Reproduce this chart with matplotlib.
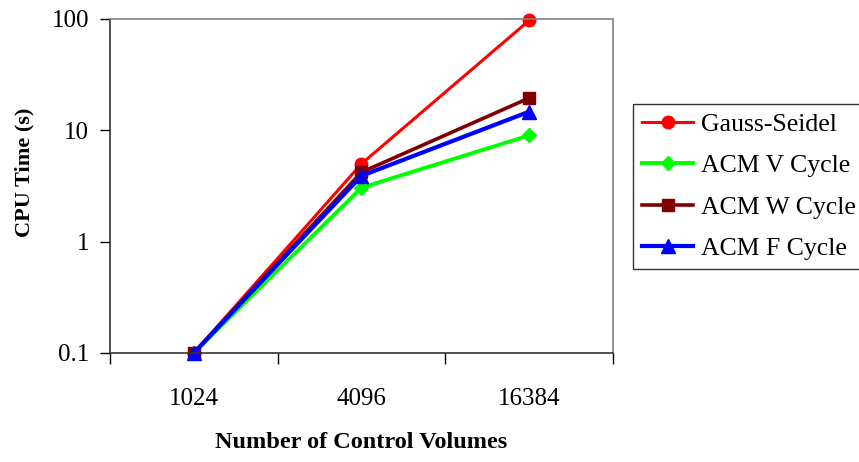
import numpy as np
import matplotlib
matplotlib.use("Agg")
import matplotlib.pyplot as plt

plt.rcParams['font.family'] = ['Liberation Serif', 'DejaVu Serif']

# data
volumes = ['1024', '4096', '16384']
gauss_seidel = [0.1, 5.0, 97.0]
acm_v = [0.1, 3.05, 9.0]
acm_w = [0.1, 4.2, 19.5]
acm_f = [0.1, 3.9, 14.7]

series = [
    ('Gauss-Seidel', gauss_seidel, '#FF0000', 'o', 9, 2.2),
    ('ACM V Cycle', acm_v, '#00FF00', 'D', 7.5, 2.8),
    ('ACM W Cycle', acm_w, '#800000', 's', 8.5, 2.6),
    ('ACM F Cycle', acm_f, '#0000FF', '^', 10, 3.0),
]

fig = plt.figure(figsize=(8.59, 4.62), dpi=100)
ax = fig.add_axes([0.128, 0.236, 0.5856, 0.7229])

x = np.arange(len(volumes))
for name, vals, col, mk, ms, lw in series:
    ax.plot(x, vals, color=col, marker=mk, markersize=ms, linewidth=lw,
            label=name, clip_on=False)

ax.set_yscale('log')
ax.set_ylim(0.1, 100)
ax.set_xlim(-0.5, 2.5)
ax.set_yticks([0.1, 1, 10, 100])
ax.set_yticklabels(['0.1', '1', '10', '100'])
ax.yaxis.set_minor_locator(matplotlib.ticker.NullLocator())
ax.set_xticks(x)
ax.set_xticklabels(volumes)
ax.set_xticks([-0.5, 0.5, 1.5, 2.5], minor=True)

ax.tick_params(axis='y', which='major', direction='out', length=7, width=1,
               labelsize=18, pad=8)
ax.tick_params(axis='x', which='major', length=0, labelsize=18, pad=25)
ax.tick_params(axis='x', which='minor', direction='out', length=8, width=1)

for side in ['top', 'right']:
    ax.spines[side].set_color('#808080')
    ax.spines[side].set_linewidth(1.2)
for side in ['left', 'bottom']:
    ax.spines[side].set_color('#333333')
    ax.spines[side].set_linewidth(1.2)

ax.set_ylabel('CPU Time (s)', fontsize=16, fontweight='bold')
ax.yaxis.set_label_coords(-0.15, 0.54)
ax.set_xlabel('Number of Control Volumes', fontsize=17.5, fontweight='bold')
ax.xaxis.set_label_coords(0.5, -0.238)

leg = fig.legend(loc='upper left', bbox_to_anchor=(0.737, 0.775),
                 fontsize=18.5, frameon=True, fancybox=False, edgecolor='black',
                 handlelength=2.0, handletextpad=0.3, labelspacing=0.72,
                 borderpad=0.35, borderaxespad=0)
leg.get_frame().set_linewidth(1.0)

fig.savefig('out.png', dpi=100)
